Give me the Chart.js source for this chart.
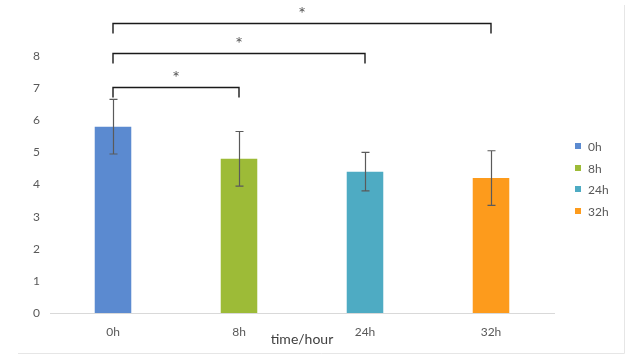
<!DOCTYPE html>
<html><head><meta charset="utf-8">
<script src="https://cdn.jsdelivr.net/npm/chart.js@4"></script>
<style>html,body{margin:0;padding:0;background:#fff}#wrap{width:631px;height:360px}</style>
</head><body><div id="wrap"><canvas id="c" width="631" height="360"></canvas></div>
<script>
const categories = ['0h', '8h', '24h', '32h'];
const means = [5.8, 4.8, 4.4, 4.2];
const errors = [0.85, 0.85, 0.6, 0.85];
const colors = ['#5b8ad0', '#9dbb37', '#4eabc3', '#fd9b1c'];
const yTicks = [0, 1, 2, 3, 4, 5, 6, 7, 8];
const bracketPairs = [[0, 1], [0, 2], [0, 3]];
const bracketLevels = [7.05, 8.1, 9.03];
const bracketMarks = ['*', '*', '*'];
const xTitle = 'time/hour';

const FONT = 'Lato, "Open Sans", sans-serif';
const TEXT = '#595959';

const overlay = {
  id: 'overlay',
  beforeDraw(chart) {
    const ctx = chart.ctx;
    ctx.save();
    ctx.strokeStyle = '#e6e6e6';
    ctx.lineWidth = 1;
    ctx.beginPath();
    ctx.moveTo(18, 353.5); ctx.lineTo(624.5, 353.5); ctx.lineTo(624.5, 5);
    ctx.stroke();
    ctx.restore();
  },
  afterDatasetsDraw(chart) {
    const ctx = chart.ctx, y = chart.scales.y;
    const meta = chart.getDatasetMeta(0);
    ctx.save();
    // error bars
    ctx.strokeStyle = '#5a5a5a';
    ctx.lineWidth = 1.2;
    means.forEach((m, i) => {
      const cx = Math.round(meta.data[i].x) + 0.5;
      const t = y.getPixelForValue(m + errors[i]);
      const b = y.getPixelForValue(m - errors[i]);
      ctx.beginPath();
      ctx.moveTo(cx, t); ctx.lineTo(cx, b);
      ctx.moveTo(cx - 4, t); ctx.lineTo(cx + 4, t);
      ctx.moveTo(cx - 4, b); ctx.lineTo(cx + 4, b);
      ctx.stroke();
    });
    // significance brackets
    ctx.strokeStyle = '#1a1a1a';
    ctx.lineWidth = 1.4;
    bracketPairs.forEach((p, k) => {
      const x1 = meta.data[p[0]].x, x2 = meta.data[p[1]].x;
      const yy = Math.round(y.getPixelForValue(bracketLevels[k])) + 0.5;
      ctx.beginPath();
      ctx.moveTo(x1, yy + 10); ctx.lineTo(x1, yy); ctx.lineTo(x2, yy); ctx.lineTo(x2, yy + 10);
      ctx.stroke();
      ctx.fillStyle = '#555';
      ctx.font = '18px ' + FONT;
      ctx.textAlign = 'center';
      ctx.textBaseline = 'middle';
      ctx.fillText(bracketMarks[k], (x1 + x2) / 2, yy - 9);
    });
    // legend
    ctx.font = '12px ' + FONT;
    ctx.textAlign = 'left';
    ctx.textBaseline = 'middle';
    categories.forEach((c, i) => {
      const cy = 146 + i * 21.7;
      ctx.fillStyle = colors[i];
      ctx.fillRect(575, Math.round(cy - 3), 6, 6);
      ctx.fillStyle = TEXT;
      ctx.fillText(c, 588, cy + 1);
    });
    ctx.restore();
  }
};

new Chart(document.getElementById('c'), {
  type: 'bar',
  data: {
    labels: categories,
    datasets: [{
      label: 'value',
      data: means,
      backgroundColor: colors,
      borderWidth: 0,
      barPercentage: 0.29,
      categoryPercentage: 1
    }]
  },
  options: {
    responsive: false,
    animation: false,
    devicePixelRatio: 1,
    layout: { padding: { left: 0, right: 77, top: 56, bottom: 0 } },
    plugins: { legend: { display: false }, tooltip: { enabled: false } },
    scales: {
      x: {
        grid: { display: false, drawTicks: false },
        border: { display: true, color: '#d9d9d9', width: 1 },
        ticks: { color: TEXT, font: { family: FONT, size: 12 }, padding: 12 },
        title: { display: true, text: xTitle, color: '#404040', font: { family: FONT, size: 14 }, padding: { top: 0, bottom: 12 } },
        afterFit(s) { s.height = 47; }
      },
      y: {
        min: 0, max: 8,
        grid: { display: false, drawTicks: false },
        border: { display: false },
        ticks: { color: TEXT, font: { family: FONT, size: 12 }, padding: 10 },
        afterBuildTicks(s) { s.ticks = yTicks.map(v => ({ value: v })); },
        afterFit(s) { s.width = 50; }
      }
    }
  },
  plugins: [overlay]
});
</script>
</body></html>
